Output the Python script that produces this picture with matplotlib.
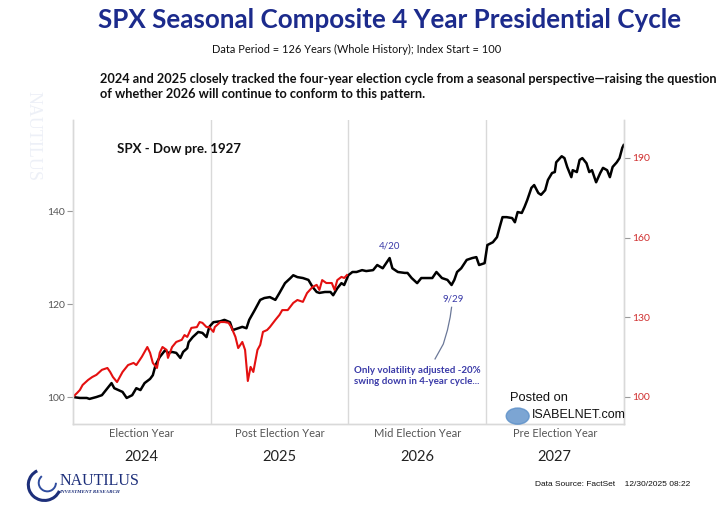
#!/usr/bin/env python3
# -*- coding=utf-8 -*-
from matplotlib import pyplot as plt
from matplotlib.patches import Arc, Circle

plt.rcParams['font.family'] = ['Lato', 'DejaVu Sans']

# position in the 4 year cycle (years since start of 2024)
composite_t = [0.00, 0.05, 0.10, 0.12, 0.17, 0.21, 0.25, 0.28, 0.30, 0.33, 0.36, 0.39, 0.43, 0.46,
               0.49, 0.52, 0.56, 0.58, 0.60, 0.63, 0.67, 0.69, 0.72, 0.75, 0.78, 0.80, 0.83, 0.84,
               0.87, 0.91, 0.94, 0.97, 0.99,
               1.02, 1.07, 1.10, 1.14, 1.16, 1.20, 1.23, 1.26, 1.28, 1.32, 1.36, 1.39, 1.43, 1.47,
               1.50, 1.54, 1.58, 1.60, 1.63, 1.67, 1.71, 1.74, 1.77, 1.79, 1.83, 1.87, 1.89, 1.92,
               1.95, 1.97, 2.00,
               2.03, 2.06, 2.10, 2.13, 2.18, 2.21, 2.25, 2.30, 2.32, 2.36, 2.41, 2.43, 2.46, 2.50,
               2.53, 2.57, 2.61, 2.64, 2.68, 2.72, 2.75, 2.77, 2.79, 2.82, 2.86, 2.90, 2.93, 2.95,
               2.99,
               3.01, 3.05, 3.08, 3.10, 3.12, 3.15, 3.19, 3.21, 3.23, 3.26, 3.28, 3.30, 3.33, 3.35,
               3.38, 3.40, 3.43, 3.45, 3.48, 3.50, 3.51, 3.55, 3.57, 3.59, 3.62, 3.63, 3.66, 3.68,
               3.70, 3.73, 3.75, 3.77, 3.80, 3.83, 3.85, 3.88, 3.90, 3.92, 3.95, 3.97, 3.99, 4.00]
# seasonal composite index (left axis)
composite_v = [100.0, 99.8, 99.8, 99.6, 100.0, 100.4, 101.9, 103.0, 101.9, 101.5, 101.1, 99.8, 100.4, 101.9,
               101.5, 103.0, 103.9, 104.7, 106.9, 108.6, 110.1, 109.5, 109.7, 109.5, 108.4, 109.7, 110.5, 111.8,
               112.9, 114.0, 113.8, 112.9, 115.1,
               116.1, 116.3, 116.6, 116.1, 114.4, 114.8, 115.1, 114.8, 116.6, 118.7, 120.9, 121.3, 121.5, 120.9,
               122.4, 124.5, 125.6, 126.2, 125.8, 125.6, 125.2, 123.7, 122.6, 122.4, 122.6, 122.6, 121.9, 123.4,
               124.5, 124.1, 126.2,
               126.9, 126.9, 127.3, 127.1, 127.3, 128.4, 127.7, 129.9, 127.7, 126.9, 126.7, 126.7, 125.6, 124.5,
               125.6, 125.6, 125.6, 126.9, 125.6, 125.2, 124.1, 125.2, 126.9, 127.7, 129.5, 129.9, 130.1, 128.4,
               128.8,
               132.7, 133.3, 134.4, 136.6, 138.7, 138.7, 138.5, 137.6, 139.8, 139.6, 140.9, 142.4, 145.0, 145.6,
               143.9, 143.5, 144.5, 146.7, 148.2, 148.4, 150.5, 151.8, 151.4, 149.5, 147.3, 148.8, 148.4, 151.0,
               151.4, 150.3, 148.4, 148.8, 146.2, 148.2, 149.3, 148.8, 147.3, 149.5, 150.5, 151.4, 153.6, 154.2]

# actual SPX 2024-2025, rebased to 100 (right axis)
spx_t = [0.00, 0.03, 0.05, 0.07, 0.11, 0.14, 0.17, 0.21, 0.25, 0.27, 0.29, 0.32, 0.34, 0.36, 0.40,
         0.44, 0.46, 0.50, 0.54, 0.56, 0.58, 0.61, 0.63, 0.65, 0.68, 0.69, 0.72, 0.75, 0.79, 0.81,
         0.83, 0.86, 0.90, 0.92, 0.94, 0.97, 0.99,
         1.02, 1.03, 1.07, 1.10, 1.13, 1.15, 1.18, 1.20, 1.23, 1.25, 1.27, 1.29, 1.31, 1.34, 1.36,
         1.38, 1.41, 1.43, 1.47, 1.50, 1.52, 1.56, 1.60, 1.63, 1.67, 1.70, 1.74, 1.77, 1.79, 1.81,
         1.84, 1.88, 1.90, 1.92, 1.95, 1.97, 1.99]
spx_v = [100.0, 101.5, 102.6, 104.5, 106.4, 107.5, 108.3, 110.2, 110.9, 109.4, 107.5, 105.6, 107.5, 109.4, 112.0,
         112.8, 112.0, 115.1, 118.8, 116.6, 112.8, 110.9, 116.6, 118.8, 117.7, 114.7, 118.8, 120.7, 121.5, 123.3,
         122.6, 126.0, 126.3, 128.2, 127.9, 126.3, 126.3,
         124.5, 126.3, 128.2, 128.2, 127.9, 126.3, 122.6, 118.4, 120.7, 117.7, 106.0, 111.3, 109.4, 117.7, 119.6,
         124.5, 125.2, 126.3, 129.0, 130.9, 132.7, 132.7, 135.4, 136.5, 135.8, 139.1, 141.4, 142.2, 140.3, 144.0,
         142.9, 142.9, 140.3, 144.0, 145.2, 144.8, 145.9]

cycle_labels = ['Election Year', 'Post Election Year', 'Mid Election Year', 'Pre Election Year']
year_labels = ['2024', '2025', '2026', '2027']
left_ticks = [100, 120, 140]
right_ticks = [100, 130, 160, 190]

NAVY = '#1c2b8c'
NOTE = '#3a3aa8'
GRID = '#d9d9d9'


def cycle_chart():
    fig = plt.figure(figsize=(7.17, 5.05), dpi=100)
    ax = fig.add_axes([0.1018, 0.1604, 0.768, 0.602])
    ax2 = ax.twinx()

    # 年份分隔线
    for i in range(1, 4):
        ax.axvline(i, color=GRID, linewidth=1, zorder=0)

    ax.plot(composite_t, composite_v, color='black', linewidth=1.8, zorder=3)
    ax2.plot(spx_t, spx_v, color='#e41010', linewidth=1.5, zorder=2)

    ax.set_xlim(0, 4)
    ax.set_ylim(94.2, 159.6)
    ax2.set_ylim(89.8, 204.3)
    ax.set_xticks([])
    ax.set_yticks(left_ticks)
    ax2.set_yticks(right_ticks)
    ax.tick_params(axis='y', colors='#9a9a9a', labelcolor='#555555', labelsize=7.5, length=4, width=0.8, pad=2)
    ax2.tick_params(axis='y', colors='#9a9a9a', labelcolor='#d03030', labelsize=7.5, length=4, width=0.8, pad=2)

    for a in (ax, ax2):
        a.spines['top'].set_visible(False)
        for s in ('left', 'right', 'bottom'):
            a.spines[s].set_color(GRID)
            a.spines[s].set_linewidth(1)

    # 周期名称与年份
    for i in range(4):
        ax.text(i + 0.5, -0.012, cycle_labels[i], transform=ax.get_xaxis_transform(),
                ha='center', va='top', fontsize=8, color='#555555')
        ax.text(i + 0.5, -0.085, year_labels[i], transform=ax.get_xaxis_transform(),
                ha='center', va='top', fontsize=10.5, color='#222222')

    # 图内注释
    ax.text(0.08, 0.905, 'SPX - Dow pre. 1927', transform=ax.transAxes, fontsize=9.5,
            fontweight='bold', color='#111111', va='center')
    ax.text(2.30, 131.5, '4/20', ha='center', va='bottom', fontsize=7, color=NOTE)
    ax.text(2.76, 122.0, '9/29', ha='center', va='top', fontsize=7, color=NOTE)
    ax.plot([2.75, 2.74, 2.72, 2.69, 2.63], [119.3, 117.2, 114.4, 111.4, 108.2],
            color='#6b7898', linewidth=0.9)
    ax.text(2.04, 104.5, 'Only volatility adjusted -20%\nswing down in 4-year cycle...',
            ha='left', va='center', fontsize=7, fontweight='bold', color=NOTE, linespacing=1.35)

    # 标题
    fig.text(0.543, 0.960, 'SPX Seasonal Composite 4 Year Presidential Cycle', ha='center', va='center',
             fontsize=18.7, fontweight='bold', color=NAVY)
    fig.text(0.498, 0.902, 'Data Period = 126 Years (Whole History); Index Start = 100', ha='center',
             va='center', fontsize=7.9, color='#111111')
    fig.text(0.139, 0.829, '2024 and 2025 closely tracked the four-year election cycle from a seasonal '
             'perspective\u2014raising the question\nof whether 2026 will continue to conform to this pattern.',
             ha='left', va='center', fontsize=9.2, fontweight='bold', color='#111111', linespacing=1.35)

    # 水印
    fig.text(0.046, 0.73, 'NAUTILUS', rotation=-90, ha='center', va='center', fontsize=13,
             family='Liberation Serif', color='#edf0f7', zorder=0)

    # 底部 logo 与数据来源
    fig.text(0.083, 0.047, 'NAUTILUS', ha='left', va='center', fontsize=11.5,
             family='Liberation Serif', color='#1d2f7a')
    fig.text(0.083, 0.025, 'INVESTMENT RESEARCH', ha='left', va='center', fontsize=3.6,
             family='Liberation Serif', style='italic', fontweight='bold', color='#1d2f7a')
    fig.patches.append(Arc((0.062, 0.040), 0.045, 0.062, theta1=110, theta2=330, linewidth=2.2,
                           color='#1d2f7a', transform=fig.transFigure, figure=fig))
    fig.patches.append(Arc((0.066, 0.044), 0.024, 0.034, theta1=120, theta2=360, linewidth=1.4,
                           color='#2f4c9e', transform=fig.transFigure, figure=fig))
    fig.text(0.746, 0.040, 'Data Source: FactSet    12/30/2025 08:22', ha='left', va='center',
             fontsize=6.0, family='Liberation Sans', color='#111111')

    # 转载标记
    fig.text(0.711, 0.212, 'Posted on', ha='left', va='center', fontsize=9.3,
             family='Liberation Sans', color='#111111')
    fig.text(0.742, 0.178, 'ISABELNET.com', ha='left', va='center', fontsize=9,
             family='Liberation Sans', color='#111111')
    fig.patches.append(Circle((0.722, 0.176), 0.016, color='#5b8fc8', alpha=0.8,
                              transform=fig.transFigure, figure=fig))

    plt.savefig('out.png', dpi=100)


if __name__ == '__main__':
    cycle_chart()
